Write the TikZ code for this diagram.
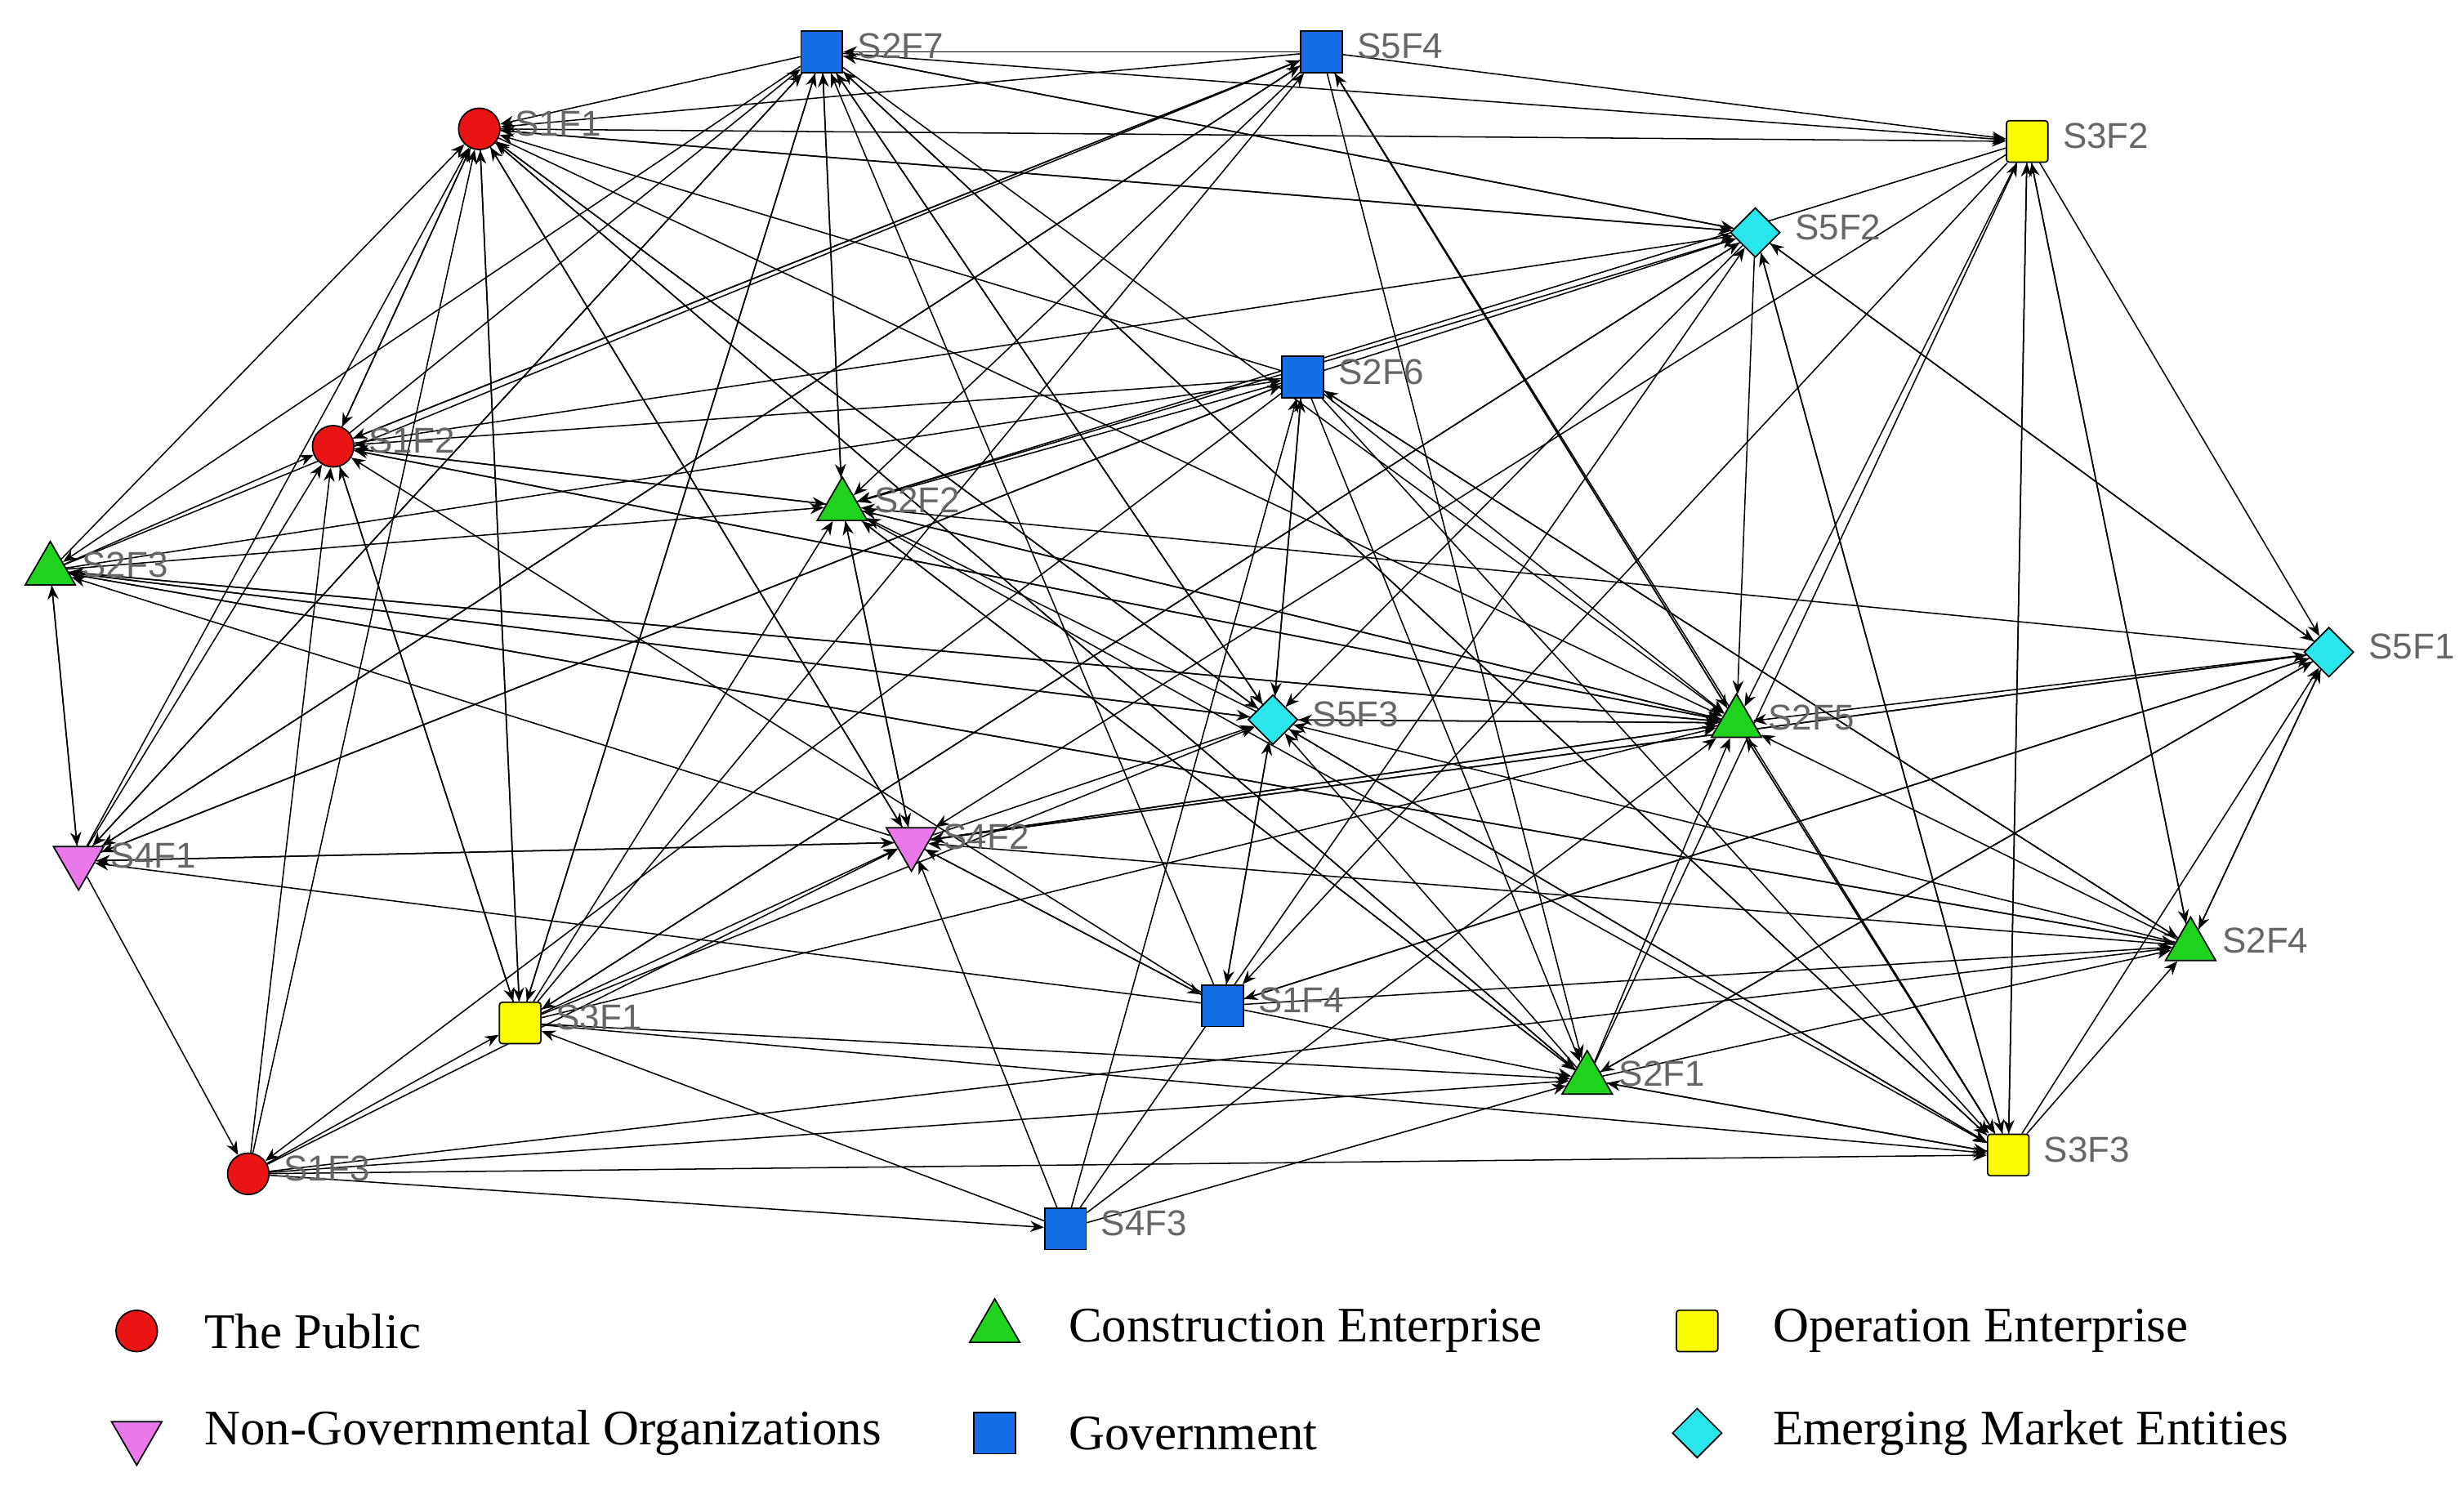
\documentclass[tikz,border=0pt]{standalone}
\usepackage{fontspec}
\setmainfont{Liberation Serif}
\newfontfamily\lab{Liberation Sans}
\usetikzlibrary{shapes.geometric,arrows.meta,backgrounds}
\definecolor{pub}{RGB}{235,20,20}
\definecolor{con}{RGB}{30,210,30}
\definecolor{ope}{RGB}{250,250,0}
\definecolor{ngo}{RGB}{235,120,235}
\definecolor{gov}{RGB}{20,110,230}
\definecolor{emr}{RGB}{40,230,235}
\begin{document}
\begin{tikzpicture}[x=0.02cm,y=-0.02cm,
 base/.style={draw=black,line width=0.5pt,inner sep=0pt},
 P/.style={base,circle,fill=pub,minimum size=15pt},
 C/.style={base,regular polygon,regular polygon sides=3,fill=con,minimum size=21pt},
 O/.style={base,rectangle,rounded corners=1pt,fill=ope,minimum size=15pt},
 N/.style={base,regular polygon,regular polygon sides=3,shape border rotate=180,fill=ngo,minimum size=21pt},
 G/.style={base,rectangle,fill=gov,minimum size=15pt},
 E/.style={base,diamond,fill=emr,minimum size=18pt},
 lb/.style={font=\lab\fontsize{13}{14}\selectfont,text=gray!80!black,anchor=west,inner sep=1pt},
 lg/.style={font=\fontsize{18}{20}\selectfont,anchor=west},
 ed/.style={-{Stealth[length=5pt,width=4pt]},line width=0.45pt}]
\useasboundingbox (0,0) rectangle (1568,951);
\foreach \n/\s/\x/\y in {S2F7/G/523/33,S5F4/G/841/33,S1F1/P/305/82,S3F2/O/1290/90,S5F2/E/1117/148,S2F6/G/829/240,S1F2/P/212/284,S2F2/C/536/322,S2F3/C/32/363,S5F1/E/1482/415,S5F3/E/810/458,S2F5/C/1105/460,S4F1/N/50/548,S4F2/N/580/536,S2F4/C/1394/602,S1F4/G/778/640,S3F1/O/331/651,S2F1/C/1010/687,S3F3/O/1278/735,S1F3/P/158/747,S4F3/G/678/782}
 {\node[\s] (\n) at (\x,\y) {};
  \node[lb] at ([xshift=4pt,yshift=2pt]\n.east) {\n};}
\begin{scope}[on background layer]
\foreach \a/\b in {
S1F1/S3F2,S1F1/S5F2,S1F1/S2F5,S1F1/S4F2,S1F1/S5F3,S1F1/S3F1,S1F1/S1F2,S1F1/S2F1,
S2F7/S3F2,S2F7/S2F2,S2F7/S2F5,S2F7/S3F3,S2F7/S5F3,S2F7/S4F1,S2F7/S2F3,S2F7/S1F1,S2F7/S3F1,S2F7/S5F2,
S5F4/S2F7,S5F4/S3F2,S5F4/S2F5,S5F4/S2F2,S5F4/S1F1,S5F4/S4F1,S5F4/S2F1,S5F4/S3F3,S5F4/S1F2,
S3F2/S2F5,S3F2/S3F3,S3F2/S2F4,S3F2/S5F1,S3F2/S4F2,S3F2/S2F2,S3F2/S1F4,
S5F2/S2F5,S5F2/S3F3,S5F2/S5F1,S5F2/S2F7,S5F2/S1F1,S5F2/S3F1,S5F2/S5F3,
S2F6/S5F2,S2F6/S2F2,S2F6/S5F3,S2F6/S1F1,S2F6/S1F2,S2F6/S2F5,S2F6/S2F4,S2F6/S2F1,S2F6/S4F1,S2F6/S3F3,S2F6/S1F3,
S1F2/S1F1,S1F2/S2F2,S1F2/S5F2,S1F2/S2F7,S1F2/S3F1,S1F2/S5F4,S1F2/S2F5,
S2F2/S2F7,S2F2/S2F5,S2F2/S4F2,S2F2/S1F2,S2F2/S2F1,S2F2/S5F2,S2F2/S3F3,
S2F3/S1F1,S2F3/S1F2,S2F3/S2F2,S2F3/S2F5,S2F3/S5F3,S2F3/S4F1,S2F3/S2F6,S2F3/S5F4,S2F3/S2F4,
S5F1/S2F5,S5F1/S2F4,S5F1/S5F2,S5F1/S2F2,S5F1/S4F2,S5F1/S1F4,S5F1/S2F1,
S5F3/S2F6,S5F3/S2F5,S5F3/S1F4,S5F3/S2F2,S5F3/S3F3,S5F3/S2F7,S5F3/S1F1,S5F3/S2F3,
S2F5/S5F4,S2F5/S3F3,S2F5/S5F3,S2F5/S2F2,S2F5/S4F2,S2F5/S1F2,S2F5/S2F3,
S4F1/S2F3,S4F1/S1F1,S4F1/S1F2,S4F1/S4F2,S4F1/S2F7,S4F1/S5F4,S4F1/S1F3,S4F1/S2F6,
S4F2/S2F2,S4F2/S2F5,S4F2/S5F3,S4F2/S1F1,S4F2/S2F3,S4F2/S4F1,S4F2/S5F1,S4F2/S1F4,
S2F4/S5F1,S2F4/S2F5,S2F4/S3F2,S2F4/S5F3,S2F4/S4F2,S2F4/S2F6,S2F4/S2F3,
S1F4/S4F2,S1F4/S2F1,S1F4/S5F3,S1F4/S2F4,S1F4/S4F1,S1F4/S2F7,S1F4/S5F1,S1F4/S1F2,
S3F1/S4F2,S3F1/S1F1,S3F1/S1F2,S3F1/S2F1,S3F1/S3F3,S3F1/S5F3,S3F1/S5F2,S3F1/S5F4,S3F1/S2F2,S3F1/S2F5,S3F1/S2F7,
S2F1/S2F4,S2F1/S3F3,S2F1/S2F5,S2F1/S5F1,S2F1/S5F3,S2F1/S2F2,S2F1/S1F1,S2F1/S3F2,
S3F3/S2F5,S3F3/S2F4,S3F3/S5F1,S3F3/S3F2,S3F3/S2F1,S3F3/S5F2,S3F3/S5F3,S3F3/S2F7,
S1F3/S1F2,S1F3/S1F1,S1F3/S3F1,S1F3/S2F1,S1F3/S3F3,S1F3/S4F3,S1F3/S4F2,S1F3/S2F4,
S4F3/S4F2,S4F3/S3F1,S4F3/S2F5,S4F3/S5F2,S4F3/S2F1,S4F3/S2F6}
 {\draw[ed] (\a) -- (\b);}
\end{scope}
% legend
\node[P] (l1) at (87,847) {}; \node[lg] at (124,847) {The Public};
\node[C] (l2) at (633,845) {}; \node[lg] at (674,847) {Construction Enterprise};
\node[O] (l3) at (1080,847) {}; \node[lg] at (1122,847) {Operation Enterprise};
\node[N] (l4) at (87,914) {}; \node[lg] at (124,912) {Non-Governmental Organizations};
\node[G] (l5) at (633,912) {}; \node[lg] at (674,912) {Government};
\node[E] (l6) at (1080,912) {}; \node[lg] at (1122,912) {Emerging Market Entities};
\end{tikzpicture}
\end{document}
